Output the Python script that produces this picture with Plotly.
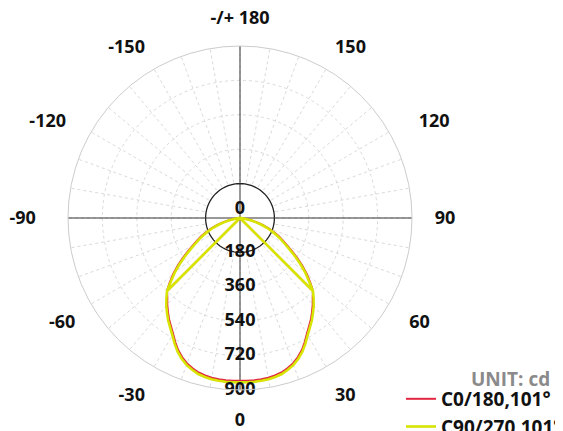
import plotly.graph_objects as go

# luminous intensity distribution (cd) - polar plot
# each curve: vertex -> centre -> left side lobe -> main beam -> right side lobe -> centre -> vertex
theta_c = [-45, 0,
           -90, -87.5, -85, -82.5, -80, -77.5, -75, -72.5, -70, -67.5, -65, -62.5,
           -60, -57.5, -55, -52.5, -50, -47.5,
           -45, -42.5, -40, -37.5, -35, -32.5, -30, -27.5, -25, -22.5, -20, -17.5,
           -15, -12.5, -10, -7.5, -5, -2.5, 0,
           2.5, 5, 7.5, 10, 12.5, 15, 17.5, 20, 22.5, 25, 27.5, 30, 32.5, 35, 37.5,
           40, 42.5, 45,
           47.5, 50, 52.5, 55, 57.5, 60, 62.5, 65, 67.5, 70, 72.5, 75, 77.5, 80,
           82.5, 85, 87.5, 90,
           0, 45]

r_c90 = [540, 0,
         0, 3, 9, 20, 36, 60, 88, 118, 150, 180, 210, 240,
         272, 310, 355, 400, 447, 490,
         540, 570, 600, 627, 655, 680, 708, 741, 772, 797, 818, 833,
         845, 852, 857, 859, 860, 860, 860,
         860, 860, 859, 857, 852, 845, 833, 818, 797, 772, 741, 708, 680, 655, 627,
         600, 570, 540,
         490, 447, 400, 355, 310, 272, 240, 210, 180, 150, 118, 88, 60, 36,
         20, 9, 3, 0,
         0, 540]

r_c0 = [540, 0,
        0, 5, 14, 27, 45, 70, 99, 129, 161, 191, 221, 251,
        283, 321, 366, 411, 457, 498,
        540, 563, 592, 619, 647, 672, 700, 733, 764, 789, 810, 825,
        837, 844, 849, 851, 852, 852, 852,
        852, 852, 851, 849, 844, 837, 825, 810, 789, 764, 733, 700, 672, 647, 619,
        592, 563, 540,
        498, 457, 411, 366, 321, 283, 251, 221, 191, 161, 129, 99, 70, 45,
        27, 14, 5, 0,
        0, 540]

radial_ticks = [0, 180, 360, 540, 720, 900]
angle_ticks = list(range(0, 360, 10))
NB = "\u00a0"
angle_labels = {0: "0", 30: "30", 60: NB + "60", 90: NB + "90",
                120: NB * 3 + "120", 150: "150", 180: "-/+ 180",
                210: "-150", 240: "-120" + NB * 2, 270: "-90" + NB * 3,
                300: "-60", 330: "-30"}

RED = "#e3263f"
YELLOW = "#d6e400"
FONT = dict(family="Open Sans", size=18, color="#111111", weight="bold")
GRID = "#dadada"

fig = go.Figure()

# blank out the radial grid inside the first ring
ring = list(range(0, 361, 5))
fig.add_trace(go.Scatterpolar(r=[178] * len(ring), theta=ring, mode="lines",
                              fill="toself", fillcolor="white",
                              line=dict(width=0), hoverinfo="skip",
                              showlegend=False))
fig.add_trace(go.Scatterpolar(r=[180] * len(ring), theta=ring, mode="lines",
                              line=dict(color="#222222", width=1.3),
                              hoverinfo="skip", showlegend=False))
# cross through the centre
fig.add_trace(go.Scatterpolar(r=[900, 0, 900], theta=[90, 0, -90], mode="lines",
                              line=dict(color="#333333", width=1),
                              hoverinfo="skip", showlegend=False))
fig.add_trace(go.Scatterpolar(r=[900, 0, 900], theta=[180, 0, 0], mode="lines",
                              line=dict(color="#333333", width=1),
                              hoverinfo="skip", showlegend=False))

fig.add_trace(go.Scatterpolar(r=r_c0, theta=theta_c, mode="lines",
                              name="<b>C0/180,101°</b>", legendrank=1,
                              line=dict(color=RED, width=2)))
fig.add_trace(go.Scatterpolar(r=r_c90, theta=theta_c, mode="lines",
                              name="<b>C90/270,101°</b>", legendrank=2,
                              line=dict(color=YELLOW, width=2.6)))

# radial value labels down the 0 axis
fig.add_trace(go.Scatterpolar(r=radial_ticks, theta=[0] * len(radial_ticks),
                              mode="text", text=[f"<b>{v}</b>" for v in radial_ticks],
                              textposition=["top center"] + ["middle center"] * 5,
                              textfont=FONT, hoverinfo="skip", showlegend=False))

# the page body adds an 8px offset, so everything is placed 8px up/left
fig.update_layout(
    width=563, height=431,
    margin=dict(l=0, r=0, t=0, b=0, autoexpand=False),
    paper_bgcolor="white",
    font=FONT,
    polar=dict(
        domain=dict(x=[60 / 563, 404 / 563], y=[49 / 431, 393 / 431]),
        bgcolor="white",
        radialaxis=dict(range=[0, 900], tickvals=radial_ticks[1:],
                        showticklabels=False, ticks="", showline=False,
                        gridcolor=GRID, griddash="dot", gridwidth=1),
        angularaxis=dict(rotation=-90, direction="counterclockwise",
                         tickmode="array", tickvals=angle_ticks,
                         ticktext=[f"<b>{angle_labels[a]}</b>" if a in angle_labels else ""
                                   for a in angle_ticks],
                         ticks="outside", ticklen=14, tickcolor="rgba(0,0,0,0)",
                         tickfont=FONT,
                         showline=True, linecolor="#cccccc", linewidth=1,
                         gridcolor=GRID, griddash="dot", gridwidth=1),
    ),
    legend=dict(x=0.698, y=0.137, xanchor="left", yanchor="top",
                bgcolor="rgba(0,0,0,0)", font=dict(FONT, size=19),
                tracegroupgap=0, itemwidth=30),
    annotations=[dict(text="<b>UNIT: cd</b>", x=0.8934, y=0.139,
                      xref="paper", yref="paper", xanchor="center", yanchor="middle",
                      showarrow=False,
                      font=dict(family="Open Sans", size=19, color="#8a8a8a",
                                weight="bold"))],
)

fig.write_html("out.html")
